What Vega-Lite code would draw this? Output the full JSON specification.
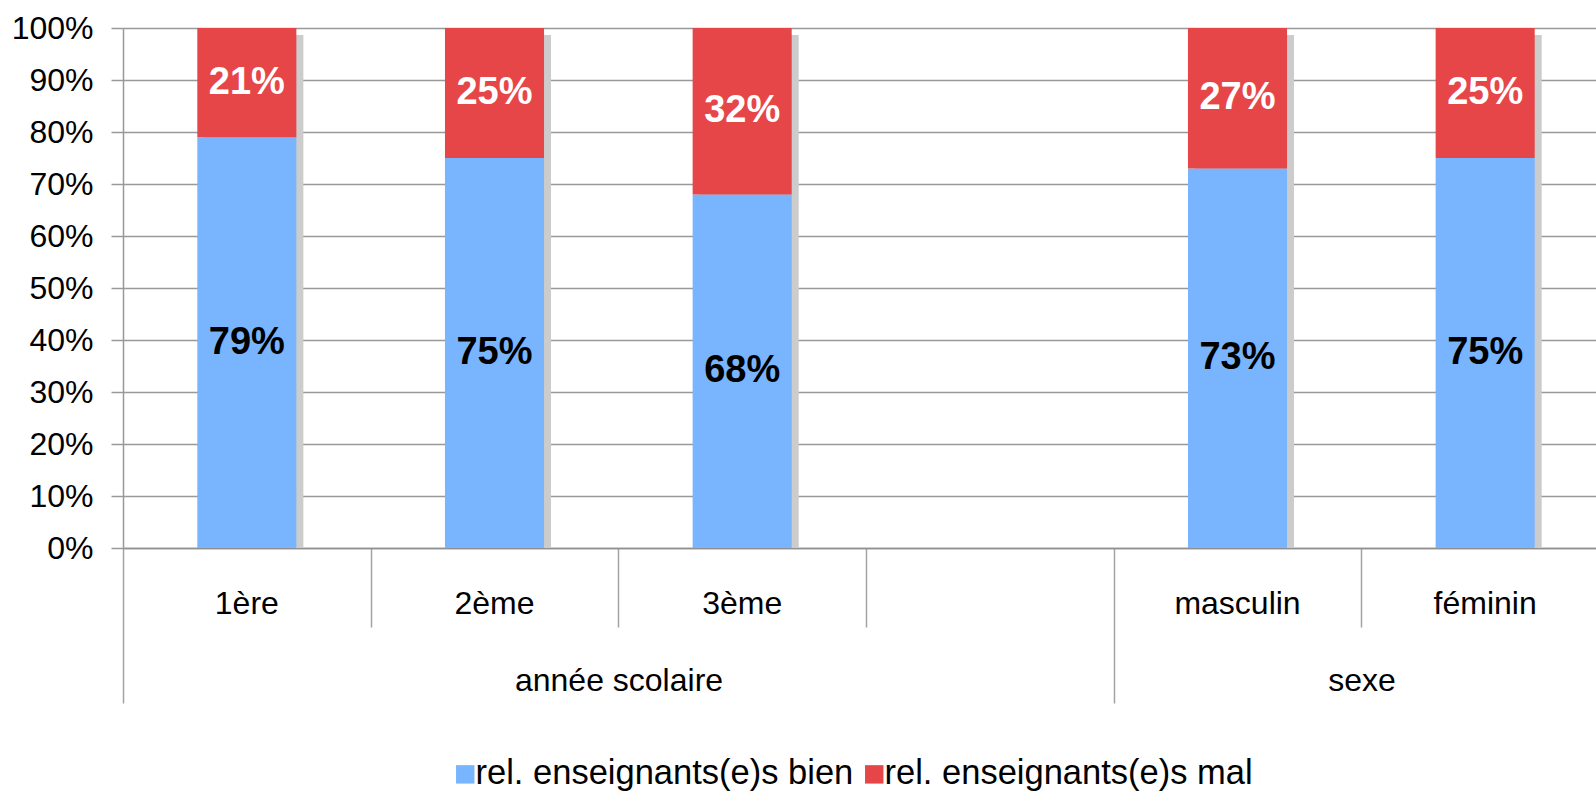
{
  "$schema": "https://vega.github.io/schema/vega-lite/v6.json",
  "autosize": {"type": "none"},
  "width": 1473,
  "height": 520,
  "padding": {"left": 123, "top": 28, "right": 0, "bottom": 247},
  "background": "white",
  "config": {
    "font": "Liberation Sans",
    "view": {"stroke": null},
    "axis": {"labelColor": "black", "labelFontSize": 32, "labelLimit": 0}
  },
  "data": {
    "values": [
      {"categorie": "1ère", "groupe": "année scolaire", "statut": "rel. enseignants(e)s bien", "part": 0.79},
      {"categorie": "1ère", "groupe": "année scolaire", "statut": "rel. enseignants(e)s mal", "part": 0.21},
      {"categorie": "2ème", "groupe": "année scolaire", "statut": "rel. enseignants(e)s bien", "part": 0.75},
      {"categorie": "2ème", "groupe": "année scolaire", "statut": "rel. enseignants(e)s mal", "part": 0.25},
      {"categorie": "3ème", "groupe": "année scolaire", "statut": "rel. enseignants(e)s bien", "part": 0.68},
      {"categorie": "3ème", "groupe": "année scolaire", "statut": "rel. enseignants(e)s mal", "part": 0.32},
      {"categorie": "masculin", "groupe": "sexe", "statut": "rel. enseignants(e)s bien", "part": 0.73},
      {"categorie": "masculin", "groupe": "sexe", "statut": "rel. enseignants(e)s mal", "part": 0.27},
      {"categorie": "féminin", "groupe": "sexe", "statut": "rel. enseignants(e)s bien", "part": 0.75},
      {"categorie": "féminin", "groupe": "sexe", "statut": "rel. enseignants(e)s mal", "part": 0.25}
    ]
  },
  "resolve": {"axis": {"x": "independent"}},
  "layer": [
    {
      "mark": {"type": "bar", "color": "#cccccc", "width": {"band": 0.4}, "xOffset": 7, "yOffset": 7},
      "encoding": {
        "x": {
          "field": "categorie",
          "type": "nominal",
          "scale": {"domain": ["1ère", "2ème", "3ème", " ", "masculin", "féminin"], "range": [0, 1486], "paddingInner": 0, "paddingOuter": 0},
          "axis": {
            "orient": "bottom",
            "title": null,
            "domain": false,
            "grid": false,
            "tickBand": "extent",
            "tickColor": "#a3a3a3",
            "tickWidth": 1.5,
            "tickSize": {"condition": {"test": "datum.extra || datum.value === ' '", "value": 155}, "value": 79},
            "labelExpr": "datum.value === '2ème' ? 'année scolaire' : datum.value === 'masculin' ? 'sexe' : ''",
            "labelOffset": 124,
            "labelPadding": 38,
            "labelAngle": 0
          }
        },
        "y": {"aggregate": "sum", "field": "part", "type": "quantitative"}
      }
    },
    {
      "mark": {"type": "bar", "width": {"band": 0.4}},
      "encoding": {
        "x": {
          "field": "categorie",
          "type": "nominal",
          "scale": {"domain": ["1ère", "2ème", "3ème", " ", "masculin", "féminin"], "range": [0, 1486], "paddingInner": 0, "paddingOuter": 0},
          "axis": {
            "orient": "bottom",
            "title": null,
            "ticks": false,
            "grid": false,
            "domainColor": "#8f8f8f",
            "domainWidth": 1.5,
            "labelPadding": 40,
            "labelAngle": 0
          }
        },
        "y": {
          "field": "part",
          "type": "quantitative",
          "stack": "zero",
          "scale": {"domain": [0, 1]},
          "axis": {
            "title": null,
            "format": "%",
            "values": [0, 0.1, 0.2, 0.3, 0.4, 0.5, 0.6, 0.7, 0.8, 0.9, 1],
            "grid": true,
            "gridColor": "#999999",
            "gridWidth": 1.5,
            "domainColor": "#999999",
            "domainWidth": 1.5,
            "tickColor": "#999999",
            "tickWidth": 1.5,
            "tickSize": 12,
            "labelPadding": 18
          }
        },
        "order": {"field": "statut", "type": "ordinal", "sort": "ascending"},
        "color": {
          "field": "statut",
          "type": "nominal",
          "scale": {"domain": ["rel. enseignants(e)s bien", "rel. enseignants(e)s mal"], "range": ["#79b5fe", "#e74649"]},
          "legend": {
            "orient": "none",
            "legendX": 325,
            "legendY": 729,
            "direction": "horizontal",
            "title": null,
            "symbolType": "square",
            "symbolSize": 340,
            "symbolStrokeWidth": 0,
            "labelFontSize": 34.5,
            "labelLimit": 0,
            "labelColor": "black",
            "labelOffset": -7,
            "columnPadding": 3
          }
        }
      }
    },
    {
      "mark": {"type": "text", "fontSize": 38, "fontWeight": "bold", "baseline": "middle"},
      "encoding": {
        "x": {
          "field": "categorie",
          "type": "nominal",
          "scale": {"domain": ["1ère", "2ème", "3ème", " ", "masculin", "féminin"], "range": [0, 1486], "paddingInner": 0, "paddingOuter": 0},
          "axis": null
        },
        "y": {"field": "part", "type": "quantitative", "stack": "zero", "bandPosition": 0.5},
        "order": {"field": "statut", "type": "ordinal", "sort": "ascending"},
        "detail": {"field": "statut"},
        "text": {"field": "part", "type": "quantitative", "format": ".0%"},
        "color": {"condition": {"test": "datum.statut === 'rel. enseignants(e)s mal'", "value": "white"}, "value": "black"}
      }
    }
  ]
}
